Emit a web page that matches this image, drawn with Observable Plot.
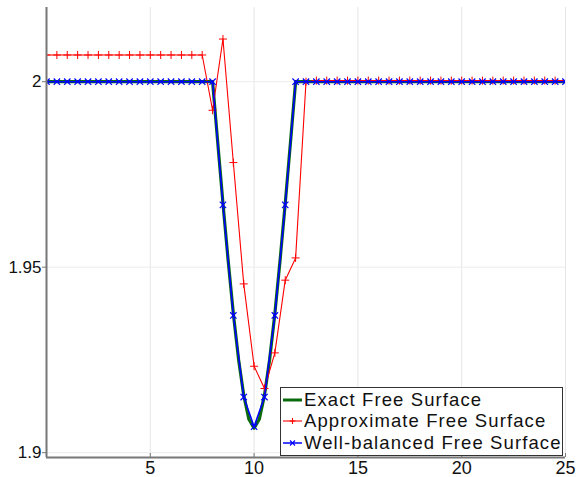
<!DOCTYPE html>
<html>
<head>
<meta charset="utf-8">
<script src="https://cdn.jsdelivr.net/npm/d3@7"></script>
<script src="https://cdn.jsdelivr.net/npm/@observablehq/plot@0.6"></script>
<style>
  html, body { margin: 0; padding: 0; background: #fff; }
  #wrap { position: relative; width: 577px; height: 477px; font-family: "Liberation Sans", Arial, sans-serif; }
  #legend { position: absolute; left: 280px; top: 387px; width: 283px; height: 69px; border: 1px solid #333; background: #fff; box-sizing: border-box; padding-top: 1px; }
  .row { display: flex; align-items: center; height: 21.5px; font-size: 18.5px; letter-spacing: 1.1px; color: #111; white-space: nowrap; }
  .row svg { margin-left: 1px; margin-right: 1px; }
</style>
</head>
<body>
<div id="wrap"></div>
<script>
// ---- data ----
const xGrid = [0, 0.5, 1, 1.5, 2, 2.5, 3, 3.5, 4, 4.5, 5, 5.5, 6, 6.5, 7, 7.5, 8, 8.5, 9, 9.5,
  10, 10.5, 11, 11.5, 12, 12.5, 13, 13.5, 14, 14.5, 15, 15.5, 16, 16.5, 17, 17.5, 18, 18.5, 19, 19.5,
  20, 20.5, 21, 21.5, 22, 22.5, 23, 23.5, 24, 24.5, 25];

const approxSurface = [2.0072, 2.0072, 2.0072, 2.0072, 2.0072, 2.0072, 2.0072, 2.0072, 2.0072, 2.0072,
  2.0072, 2.0072, 2.0072, 2.0072, 2.0072, 2.0072, 1.9923, 2.0115, 1.9782, 1.9455,
  1.9233, 1.9173, 1.9269, 1.9465, 1.9525, 2.0000, 2.0003, 2.0003, 2.0003, 2.0003,
  2.0003, 2.0003, 2.0003, 2.0003, 2.0003, 2.0003, 2.0003, 2.0003, 2.0003, 2.0003,
  2.0003, 2.0003, 2.0003, 2.0003, 2.0003, 2.0003, 2.0003, 2.0003, 2.0003, 2.0003, 2.0003];

const wellBalanced = [2, 2, 2, 2, 2, 2, 2, 2, 2, 2, 2, 2, 2, 2, 2, 2, 2, 1.9668, 1.9370, 1.9150,
  1.9070, 1.9150, 1.9370, 1.9668, 2, 2, 2, 2, 2, 2, 2, 2, 2, 2, 2, 2, 2, 2, 2, 2,
  2, 2, 2, 2, 2, 2, 2, 2, 2, 2, 2];

const xExact = [0, 8, 8.25, 8.5, 8.75, 9, 9.25, 9.5, 9.75, 10, 10.25, 10.5, 10.75, 11, 11.25, 11.5, 11.75, 12, 25];
const exactSurface = [2, 2, 1.9835, 1.9672, 1.9518, 1.9375, 1.9252, 1.9155, 1.9090, 1.9066,
  1.9090, 1.9155, 1.9252, 1.9375, 1.9518, 1.9672, 1.9835, 2, 2];

const xTicks = [5, 10, 15, 20, 25];
const yTicks = [1.9, 1.95, 2];
const yTickLabels = ["1.9", "1.95", "2"];

const seriesNames = ["Exact Free Surface", "Approximate Free Surface", "Well-balanced Free Surface"];
const seriesColors = ["#0b6a0b", "#ff0000", "#0000ff"];

// ---- build tables ----
const exact = xExact.map((x, i) => ({x, y: exactSurface[i]}));
const approx = xGrid.map((x, i) => ({x, y: approxSurface[i]}));
const wb = xGrid.map((x, i) => ({x, y: wellBalanced[i]}));

const xDomain = [0, 25];
const yDomain = [1.8987, 2.02];

const chart = Plot.plot({
  width: 577,
  height: 477,
  marginLeft: 46,
  marginRight: 12,
  marginTop: 7,
  marginBottom: 20,
  style: {fontFamily: "Liberation Sans, Arial, sans-serif", background: "#fff"},
  x: {domain: xDomain},
  y: {domain: yDomain},
  marks: [
    Plot.gridX(xTicks, {stroke: "#e6e6e6", strokeOpacity: 1}),
    Plot.gridY(yTicks, {stroke: "#ececec", strokeOpacity: 1}),
    Plot.line(exact, {x: "x", y: "y", stroke: seriesColors[0], strokeWidth: 3.2, clip: true}),
    Plot.line(approx, {x: "x", y: "y", stroke: seriesColors[1], strokeWidth: 1.1, clip: true}),
    Plot.dot(approx, {x: "x", y: "y", symbol: "plus", r: 2.7, stroke: seriesColors[1], strokeWidth: 1, clip: true}),
    Plot.line(wb, {x: "x", y: "y", stroke: seriesColors[2], strokeWidth: 1.6, clip: true}),
    Plot.dot(wb, {x: "x", y: "y", symbol: "times", r: 3, stroke: seriesColors[2], strokeWidth: 1.2, clip: true}),
    Plot.ruleX([xDomain[0]], {stroke: "#777", strokeWidth: 2}),
    Plot.ruleY([yDomain[0]], {stroke: "#777", strokeWidth: 2}),
    Plot.axisY(yTicks, {tickFormat: (d, i) => yTickLabels[i], tickSize: 4, tickPadding: 1, stroke: "#777",
      fontSize: 17, fill: "#111", label: null}),
    Plot.axisX(xTicks, {tickSize: -4, tickPadding: 8, stroke: "#777", fontSize: 18, fill: "#111", label: null})
  ]
});

const wrap = document.getElementById("wrap");
wrap.appendChild(chart);

// ---- legend ----
const legend = document.createElement("div");
legend.id = "legend";
const sym = ["", "M10.5,4v6M7.5,7h6", "M8,4.5l5,5M13,4.5l-5,5"];
seriesNames.forEach((name, i) => {
  const row = document.createElement("div");
  row.className = "row";
  const w = i === 0 ? 3 : (i === 1 ? 1.1 : 1.5);
  row.innerHTML = `<svg width="21" height="14"><line x1="1" x2="20" y1="7" y2="7" stroke="${seriesColors[i]}" stroke-width="${w}"/>` +
    (sym[i] ? `<path d="${sym[i]}" stroke="${seriesColors[i]}" stroke-width="1.1" fill="none"/>` : "") +
    `</svg><span>${name}</span>`;
  legend.appendChild(row);
});
wrap.appendChild(legend);
</script>
</body>
</html>
